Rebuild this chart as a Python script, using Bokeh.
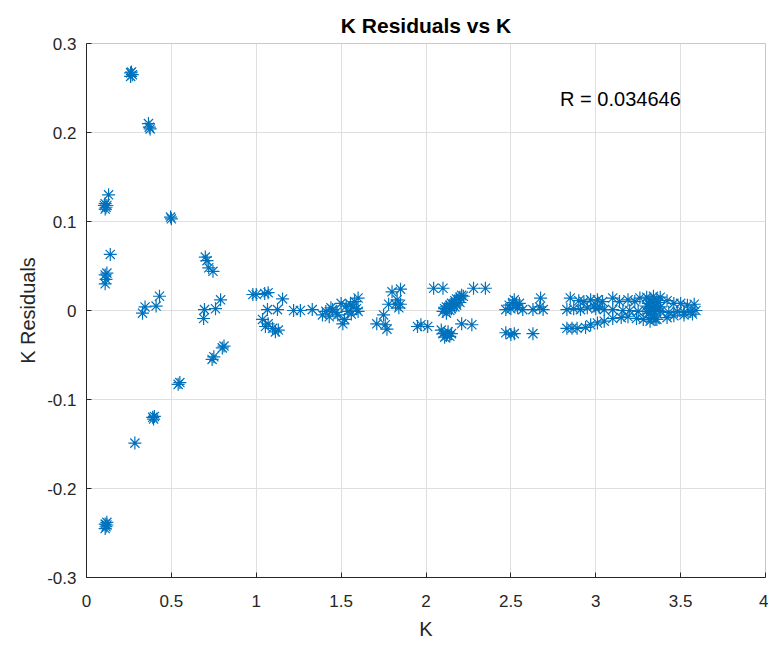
from bokeh.plotting import figure
from bokeh.models import Label, FixedTicker, ColumnDataSource
from bokeh.embed import file_html
from bokeh.resources import INLINE

# ---- data (K vs K residuals) ----
k_low = [0.26, 0.265, 0.27, 0.26, 0.365, 0.37, 0.375, 0.105, 0.11, 0.115, 0.12, 0.11, 0.13,
         0.495, 0.5, 0.14, 0.11, 0.115, 0.11, 0.12, 0.33, 0.345, 0.41, 0.43,
         0.70, 0.71, 0.72, 0.745, 0.69, 0.695, 0.76, 0.79, 0.80, 0.81, 0.74, 0.75,
         0.54, 0.55, 0.39, 0.40, 0.395, 0.285, 0.11, 0.115, 0.12, 0.11, 0.12]
r_low = [0.267, 0.268, 0.265, 0.263, 0.21, 0.206, 0.204, 0.118, 0.12, 0.116, 0.118, 0.114, 0.13,
         0.105, 0.103, 0.063, 0.04, 0.035, 0.03, 0.042, -0.003, 0.004, 0.005, 0.016,
         0.06, 0.056, 0.048, 0.044, -0.009, 0.001, 0.002, 0.012, -0.042, -0.04, -0.055, -0.052,
         -0.083, -0.081, -0.12, -0.119, -0.122, -0.149, -0.24, -0.243, -0.238, -0.245, -0.241]

k_mid = [0.98, 1.00, 1.05, 1.07, 1.155, 1.066, 1.125, 1.037, 1.054, 1.07, 1.096, 1.113, 1.13,
         1.22, 1.26, 1.33, 1.39, 1.41, 1.43, 1.45, 1.48, 1.50, 1.51, 1.52, 1.54, 1.555, 1.57,
         1.58, 1.60, 1.60, 1.47, 1.44, 1.53, 1.59, 1.56,
         1.71, 1.76, 1.77, 1.75, 1.78, 1.80, 1.82, 1.85, 1.85, 1.83, 1.84, 1.95, 1.97, 2.01]
r_mid = [0.018, 0.018, 0.019, 0.02, 0.013, 0.001, 0.001, -0.010, -0.018, -0.015, -0.02, -0.024, -0.022,
         0.0, 0.0, 0.001, -0.005, -0.001, -0.007, 0.001, -0.005, 0.008, -0.015, -0.01, -0.001, 0.007, 0.004,
         0.01, 0.014, -0.001, -0.002, 0.003, 0.005, 0.002, -0.004,
         -0.015, -0.016, -0.021, -0.005, 0.007, 0.021, 0.007, 0.024, 0.007, 0.012, 0.003, -0.018, -0.016, -0.018]

k_high1 = [2.045, 2.10, 2.10, 2.11, 2.12, 2.13, 2.14, 2.15, 2.16, 2.17, 2.18, 2.19, 2.20, 2.21,
           2.12, 2.15, 2.18, 2.20, 2.22, 2.14, 2.17, 2.28, 2.35,
           2.09, 2.10, 2.12, 2.13, 2.14, 2.15, 2.11, 2.21, 2.27,
           2.47, 2.50, 2.52, 2.47, 2.49, 2.51, 2.52, 2.53, 2.54, 2.55, 2.57, 2.50,
           2.63, 2.63, 2.675, 2.69, 2.67]
r_high1 = [0.025, 0.025, -0.001, 0.002, 0.004, 0.003, 0.006, 0.008, 0.007, 0.011, 0.013, 0.012, 0.015, 0.017,
           -0.003, 0.002, 0.006, 0.009, 0.016, 0.0, 0.004, 0.025, 0.025,
           -0.022, -0.026, -0.028, -0.024, -0.029, -0.026, -0.03, -0.015, -0.016,
           -0.025, -0.027, -0.026, 0.001, 0.006, 0.009, 0.012, 0.006, 0.003, 0.008, 0.001, 0.002,
           -0.026, 0.001, 0.014, 0.001, 0.004]

k_high2 = [2.85, 2.90, 2.93, 2.97, 3.01, 3.04, 3.10, 3.14, 3.19, 3.23, 3.26, 3.30, 3.34, 3.38,
           3.42, 3.46, 3.50, 3.54, 3.58, 2.99, 3.02,
           2.83, 2.87, 2.91, 2.95, 3.00, 3.05, 3.10, 3.16, 3.20, 3.25, 3.30, 3.34, 3.38, 3.43,
           3.48, 3.52, 3.56, 3.59,
           2.83, 2.86, 2.89, 2.94, 2.97, 3.01, 3.05, 3.10, 3.15, 3.19, 3.24, 3.28, 3.32, 3.36,
           3.42, 3.46, 3.52, 3.57,
           3.30, 3.31, 3.32, 3.33, 3.34, 3.35, 3.36, 3.37, 3.33, 3.31, 3.35, 3.36, 3.32, 3.38, 3.34]
r_high2 = [0.014, 0.011, 0.01, 0.012, 0.012, 0.01, 0.014, 0.01, 0.012, 0.01, 0.014, 0.015, 0.016, 0.015,
           0.011, 0.008, 0.008, 0.006, 0.007, 0.005, 0.004,
           0.001, 0.002, 0.001, 0.003, 0.002, 0.001, 0.001, 0.0, 0.0, -0.001, -0.001, 0.0, -0.001, -0.002,
           -0.001, -0.002, -0.001, 0.0,
           -0.020, -0.020, -0.02, -0.019, -0.016, -0.014, -0.012, -0.009, -0.008, -0.007, -0.009, -0.01,
           -0.012, -0.01, -0.008, -0.006, -0.005, -0.004,
           0.005, 0.008, 0.002, 0.01, -0.005, 0.006, 0.0, 0.009, -0.008, -0.003, -0.01, 0.012, 0.012,
           0.004, 0.004]

K = k_low + k_mid + k_high1 + k_high2
R = r_low + r_mid + r_high1 + r_high2

x_ticks = [0, 0.5, 1, 1.5, 2, 2.5, 3, 3.5, 4]
x_tick_labels = ["0", "0.5", "1", "1.5", "2", "2.5", "3", "3.5", "4"]
y_ticks = [-0.3, -0.2, -0.1, 0, 0.1, 0.2, 0.3]
y_tick_labels = ["-0.3", "-0.2", "-0.1", "0", "0.1", "0.2", "0.3"]

title_text = "K Residuals vs K"
x_label = "K"
y_label = "K Residuals"
r_text = "R = 0.034646"

FONT = "Liberation Sans"
AXC = "#262626"

p = figure(width=768, height=648, x_range=(0, 4), y_range=(-0.3, 0.3),
           output_backend="svg", toolbar_location=None,
           min_border_left=86, min_border_right=3, min_border_top=43, min_border_bottom=71)
p.title.text = title_text
p.title.align = "center"
p.title.text_font = FONT
p.title.text_font_size = "21px"
p.title.text_font_style = "bold"
p.title.text_color = "#000000"
p.title.standoff = 14

src = ColumnDataSource(dict(k=K, r=R))
p.scatter("k", "r", source=src, marker="asterisk", size=13, line_color="#0072BD", line_width=1.2)

p.xaxis.ticker = FixedTicker(ticks=x_ticks)
p.yaxis.ticker = FixedTicker(ticks=y_ticks)
p.xaxis.major_label_overrides = {t: l for t, l in zip(x_ticks, x_tick_labels)}
p.yaxis.major_label_overrides = {t: l for t, l in zip(y_ticks, y_tick_labels)}
p.xaxis.axis_label = x_label
p.yaxis.axis_label = y_label

for ax in (p.xaxis[0], p.yaxis[0]):
    ax.axis_line_color = AXC
    ax.axis_line_width = 1
    ax.major_tick_line_color = AXC
    ax.major_tick_in = 5
    ax.major_tick_out = 0
    ax.minor_tick_line_color = None
    ax.major_label_text_font = FONT
    ax.major_label_text_font_size = "17px"
    ax.major_label_text_color = AXC
    ax.axis_label_text_font = FONT
    ax.axis_label_text_font_size = "20px"
    ax.axis_label_text_font_style = "normal"
    ax.axis_label_text_color = AXC

p.xaxis.major_label_standoff = 17
p.yaxis.major_label_standoff = 10
p.xaxis.axis_label_standoff = 8
p.yaxis.axis_label_standoff = 5

p.xgrid.grid_line_color = "#dfdfdf"
p.ygrid.grid_line_color = "#dfdfdf"
p.outline_line_color = "#c8c8c8"
p.outline_line_width = 1

p.add_layout(Label(x=2.79, y=0.238, text=r_text, text_font=FONT, text_font_size="20px",
                   text_color="#000000", text_baseline="middle"))

open("out.html", "w").write(file_html(p, INLINE))
